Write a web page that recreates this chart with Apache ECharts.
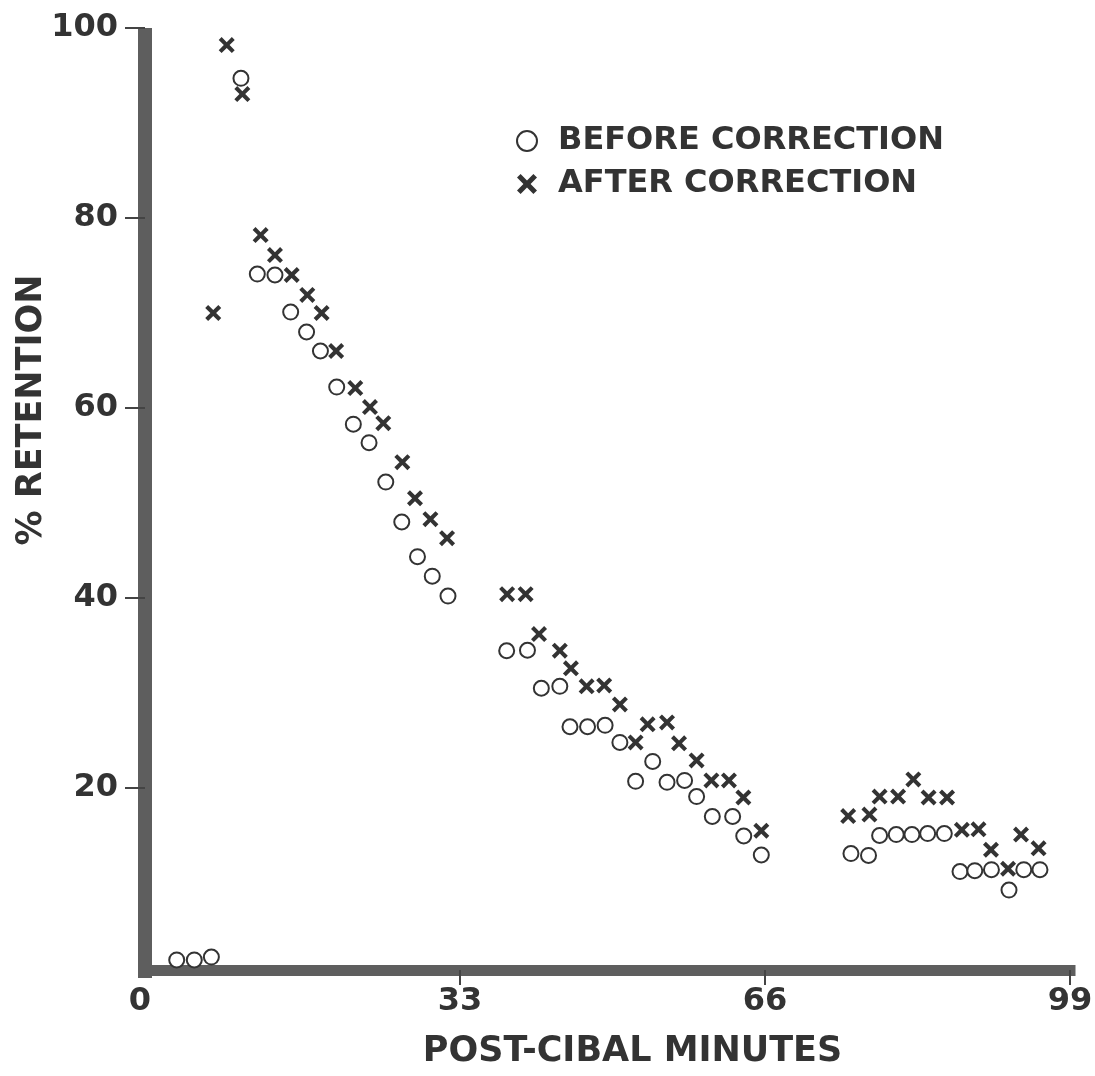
<!DOCTYPE html>
<html>
<head>
<meta charset="utf-8">
<script src="https://cdn.jsdelivr.net/npm/echarts@6/dist/echarts.min.js"></script>
<style>
  html, body { margin: 0; padding: 0; background: #ffffff; }
  #chart { width: 1095px; height: 1076px; }
</style>
</head>
<body>
<div id="chart"></div>
<script>
// ---- data (post-cibal minutes, % retention) ----
const beforeX = [2.35, 4.25, 6.1, 9.3, 11.07, 12.98, 14.68, 16.4, 17.9, 19.66, 21.46, 23.16, 24.97, 26.7, 28.4, 30.0, 31.7,
                 38.05, 40.3, 41.8, 43.8, 44.9, 46.8, 48.7, 50.3, 52.0, 53.85, 55.4, 57.3, 58.6, 60.3, 62.5, 63.7, 65.6,
                 75.3, 77.2, 78.4, 80.2, 81.9, 83.6, 85.4, 87.1, 88.7, 90.5, 92.4, 94.0, 95.75];
const beforeY = [1.9, 1.9, 2.2, 94.7, 74.1, 74.0, 70.1, 68.0, 66.0, 62.2, 58.3, 56.35, 52.2, 48.0, 44.35, 42.3, 40.2,
                 34.45, 34.5, 30.5, 30.7, 26.45, 26.45, 26.6, 24.8, 20.7, 22.8, 20.6, 20.8, 19.1, 17.0, 17.0, 14.95, 12.95,
                 13.1, 12.9, 15.0, 15.1, 15.1, 15.2, 15.2, 11.2, 11.3, 11.4, 9.26, 11.4, 11.4];
const afterX = [6.3, 7.76, 9.45, 11.43, 12.98, 14.79, 16.48, 18.03, 19.6, 21.67, 23.26, 24.7, 26.76, 28.13, 29.8, 31.6,
                38.1, 40.1, 41.55, 43.8, 45.0, 46.7, 48.6, 50.3, 52.0, 53.3, 55.4, 56.7, 58.6, 60.2, 62.1, 63.66, 65.6,
                75.0, 77.3, 78.4, 80.4, 82.05, 83.7, 85.7, 87.3, 89.1, 90.45, 92.3, 93.7, 95.6];
const afterY = [70.0, 98.2, 93.05, 78.2, 76.1, 74.0, 71.9, 70.0, 66.0, 62.1, 60.1, 58.4, 54.3, 50.5, 48.3, 46.3,
                40.4, 40.4, 36.2, 34.45, 32.6, 30.7, 30.8, 28.8, 24.8, 26.7, 26.9, 24.7, 22.9, 20.8, 20.8, 19.0, 15.5,
                17.05, 17.2, 19.1, 19.1, 20.9, 19.0, 19.0, 15.6, 15.65, 13.5, 11.5, 15.1, 13.65];
const xTicks = [0, 33, 66, 99];
const yTicks = [20, 40, 60, 80, 100];
const seriesNames = ['BEFORE CORRECTION', 'AFTER CORRECTION'];
const xTitle = 'POST-CIBAL MINUTES';
const yTitle = '% RETENTION';

const zip = (xs, ys) => xs.map((x, i) => [x, ys[i]]);
const FONT = 'DejaVu Sans';
const INK = '#333333';
const AXIS = '#5e5e5e';
const crossPath = 'path://M0,1.8L1.8,0L5,3.2L8.2,0L10,1.8L6.8,5L10,8.2L8.2,10L5,6.8L1.8,10L0,8.2L3.2,5Z';

const chart = echarts.init(document.getElementById('chart'), null, { renderer: 'canvas' });
chart.setOption({
  animation: false,
  backgroundColor: '#ffffff',
  grid: { left: 155, right: 25, top: 28, bottom: 98, containLabel: false, outerBoundsMode: 'none' },
  legend: {
    orient: 'vertical',
    left: 511,
    top: 118,
    itemWidth: 20,
    itemHeight: 20,
    itemGap: 7,
    selectedMode: false,
    textStyle: { fontFamily: FONT, fontWeight: 'bold', fontSize: 32, color: INK, lineHeight: 36, padding: [0, 0, 0, 16] },
    data: [
      { name: seriesNames[0], icon: 'circle', itemStyle: { color: '#ffffff', borderColor: INK, borderWidth: 2 } },
      { name: seriesNames[1], icon: crossPath, itemStyle: { color: INK } }
    ]
  },
  xAxis: {
    type: 'value',
    min: 0, max: 99, interval: 33,
    offset: -8,
    name: xTitle,
    nameLocation: 'middle',
    nameGap: 64,
    nameMoveOverlap: false,
    nameTextStyle: { fontFamily: FONT, fontWeight: 'bold', fontSize: 35, color: INK, padding: [0, 0, 0, 40] },
    axisLine: { show: true, onZero: false, lineStyle: { color: AXIS, width: 11, cap: 'square' } },
    axisTick: { show: true, customValues: xTicks.slice(1), length: 15, lineStyle: { color: '#444', width: 2 } },
    axisLabel: {
      customValues: xTicks,
      margin: 16,
      fontFamily: FONT, fontWeight: 'bold', fontSize: 32, color: INK,
      formatter: v => (v === 0 ? '{z|0}' : String(v)),
      rich: { z: { fontFamily: FONT, fontWeight: 'bold', fontSize: 32, color: INK, padding: [0, 30, 0, 0] } }
    },
    splitLine: { show: false }
  },
  yAxis: {
    type: 'value',
    min: 0, max: 100, interval: 20,
    offset: 10,
    name: yTitle,
    nameLocation: 'middle',
    nameGap: 96,
    nameMoveOverlap: false,
    nameTextStyle: { fontFamily: FONT, fontWeight: 'bold', fontSize: 35, color: INK, padding: [0, 0, 0, 186] },
    axisLine: { show: true, onZero: false, lineStyle: { color: AXIS, width: 14, cap: 'butt' } },
    axisTick: { show: true, customValues: yTicks, length: 20, lineStyle: { color: '#444', width: 2 } },
    axisLabel: {
      customValues: yTicks,
      margin: 27,
      fontFamily: FONT, fontWeight: 'bold', fontSize: 32, color: INK
    },
    splitLine: { show: false }
  },
  series: [
    {
      name: seriesNames[0],
      type: 'scatter',
      data: zip(beforeX, beforeY),
      symbol: 'circle',
      symbolSize: 15,
      itemStyle: { color: '#ffffff', borderColor: INK, borderWidth: 2, opacity: 1 },
      z: 3
    },
    {
      name: seriesNames[1],
      type: 'scatter',
      data: zip(afterX, afterY),
      symbol: crossPath,
      symbolSize: 16,
      itemStyle: { color: INK, opacity: 1 },
      z: 4
    }
  ]
});
</script>
</body>
</html>
